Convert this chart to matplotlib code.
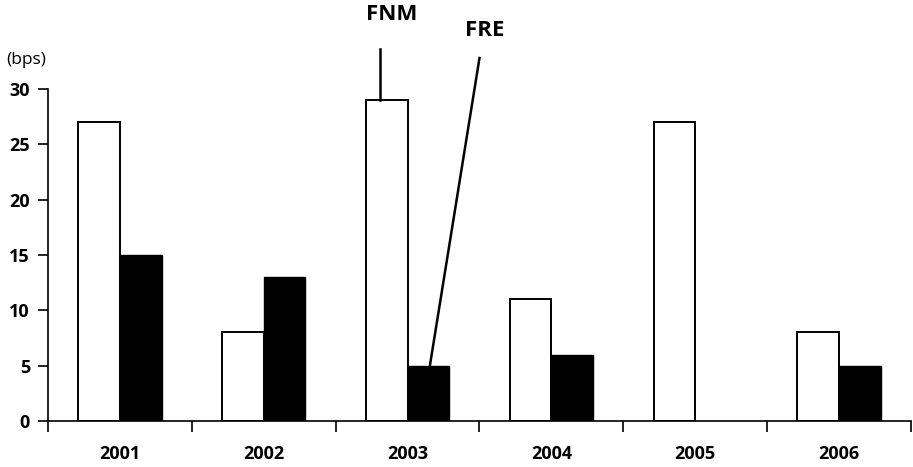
import matplotlib
matplotlib.use("Agg")
import matplotlib.pyplot as plt
import numpy as np

plt.rcParams["font.family"] = ["Open Sans", "DejaVu Sans"]

years = ["2001", "2002", "2003", "2004", "2005", "2006"]
fnm = [27, 8, 29, 11, 27, 8]
fre = [15, 13, 5, 6, np.nan, 5]
yticks = [0, 5, 10, 15, 20, 25, 30]

fig = plt.figure(figsize=(9.13, 4.67), dpi=100)
ax = fig.add_axes([48/913, (467-421)/467, (911-48)/913, (421-89)/467])

x = np.arange(len(years))
w = 0.29
off = 0.145
ax.bar(x - off, fnm, w, color="white", edgecolor="black", linewidth=1.4, zorder=2)
ax.bar(x + off, fre, w, color="black", edgecolor="black", linewidth=1.0, zorder=2)

ax.set_xlim(-0.5, len(years) - 0.5)
ax.set_ylim(0, 30)
ax.set_yticks(yticks)
ax.set_yticklabels([str(v) for v in yticks], fontsize=13, fontweight="bold")
ax.set_xticks(x)
ax.set_xticklabels(years, fontsize=13, fontweight="bold")
ax.set_xticks(np.arange(len(years) + 1) - 0.5, minor=True)
ax.tick_params(axis="x", which="major", length=0, pad=17.5)
ax.tick_params(axis="x", which="minor", length=8, width=1.2, direction="out")
ax.tick_params(axis="y", length=7, width=1.2, direction="out", pad=6)
for s in ["top", "right"]:
    ax.spines[s].set_visible(False)
for s in ["left", "bottom"]:
    ax.spines[s].set_linewidth(1.2)

# annotations
i = 2
xf = x[i] - off - 0.05
ax.plot([xf, xf], [fnm[i], 33.6], color="black", lw=1.8, clip_on=False)
ax.text(1.889, 36.7, "FNM", fontsize=16, fontweight="bold", ha="center", va="center", clip_on=False)
xr = x[i] + off + 0.01
ax.plot([xr, 2.5], [fre[i], 32.8], color="black", lw=1.8, clip_on=False, zorder=3)
ax.text(2.535, 35.3, "FRE", fontsize=16, fontweight="bold", ha="center", va="center", clip_on=False)

fig.text(26/913, 1 - 60/467, "(bps)", fontsize=12.5, ha="center", va="center")

fig.savefig("out.png", dpi=100)
